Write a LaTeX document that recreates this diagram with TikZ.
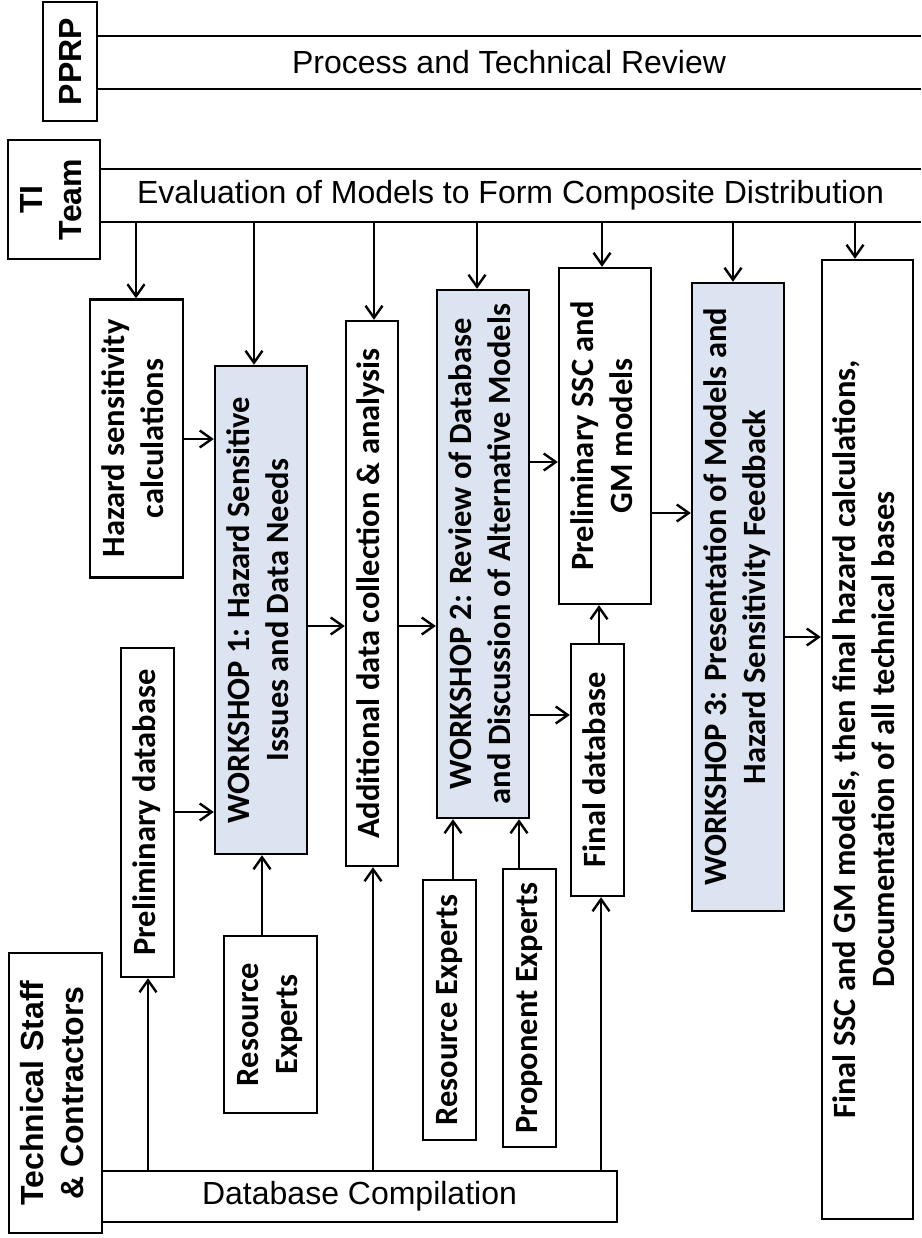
\documentclass[tikz,border=0pt]{standalone}
\usepackage{fontspec}
\usepackage{graphicx}
\setmainfont{Carlito}
\newfontfamily\arialf{Liberation Sans}
\usetikzlibrary{arrows.meta}
\definecolor{wsblue}{HTML}{DBE4F0}
\newcommand\rottext[1]{\rotatebox{90}{\begin{tabular}{@{}c@{}}#1\end{tabular}}}
\newcommand\boxfont{\fontsize{32.5}{39}\selectfont\bfseries}
\newcommand\bandfont{\arialf\fontsize{32}{38}\selectfont}
\newcommand\lblfont{\arialf\fontsize{32}{40}\selectfont\bfseries}
\begin{document}
\begin{tikzpicture}[x=1pt,y=-1pt,
  box/.style={draw=black, line width=2.4pt, inner sep=0pt, font=\boxfont},
  wsbox/.style={box, fill=wsblue},
  lbox/.style={draw=black, line width=2.4pt, inner sep=0pt, font=\lblfont},
  band/.style={draw=none, inner sep=0pt, font=\bandfont},
  bline/.style={line width=2.2pt},
  arr/.style={line width=2.4pt, -{Straight Barb[length=12pt,width=17pt]}}]
\useasboundingbox (0,0) rectangle (921,1238);

% left labels
\node[lbox, minimum width=54, minimum height=119] (pprp) at (70,61.5) {\rotatebox{90}{PPRP}};
\node[lbox, minimum width=92, minimum height=119] (ti) at (54,199.5) {\rottext{TI\\Team}};
\node[lbox, minimum width=93, minimum height=280] (ts) at (55.5,1093) {\rottext{Technical Staff\\\& Contractors}};

% bands
\node[band, minimum width=824, minimum height=53] (rev) at (509,62.5) {Process and Technical Review};
\draw[bline] (rev.north west) -- (rev.north east) (rev.south west) -- (rev.south east);
\node[band, minimum width=821, minimum height=53] (eval) at (510.5,195.5) {Evaluation of Models to Form Composite Distribution};
\draw[bline] (eval.north west) -- (eval.north east) (eval.south west) -- (eval.south east);
\node[band, minimum width=515, minimum height=51] (dbc) at (359.5,1196.5) {Database Compilation};
\draw[bline] (dbc.north west) -- (dbc.north east) -- (dbc.south east) -- (dbc.south west);

% boxes
\node[box, minimum width=93, minimum height=278] (hz) at (136.5,438.5) {\rottext{Hazard sensitivity\\calculations}};
\node[wsbox, minimum width=92, minimum height=488] (ws1) at (261,610) {\rottext{WORKSHOP 1: Hazard Sensitive\\Issues and Data Needs}};
\node[box, minimum width=52, minimum height=545] (add) at (372,593.5) {\rottext{Additional data collection \& analysis}};
\node[wsbox, minimum width=92, minimum height=528] (ws2) at (483,554) {\rottext{WORKSHOP 2: Review of Database\\and Discussion of Alternative Models}};
\node[box, minimum width=92, minimum height=336] (pssc) at (605,436) {\rottext{Preliminary SSC and\\GM models}};
\node[box, minimum width=53, minimum height=252] (fdb) at (597.5,770) {\rottext{Final database}};
\node[wsbox, minimum width=92, minimum height=628] (ws3) at (738,597) {\rottext{WORKSHOP 3: Presentation of Models and\\Hazard Sensitivity Feedback}};
\node[box, minimum width=91, minimum height=959] (fssc) at (867.5,739.5) {\rottext{Final SSC and GM models, then final hazard calculations,\\Documentation of all technical bases}};
\node[box, minimum width=53, minimum height=329] (pdb) at (147.5,812.5) {\rottext{Preliminary database}};
\node[box, minimum width=93, minimum height=177] (re1) at (270.5,1024.5) {\rottext{Resource\\Experts}};
\node[box, minimum width=53, minimum height=260] (re2) at (449.5,1010) {\rottext{Resource Experts}};
\node[box, minimum width=53, minimum height=278] (pe) at (529.5,1008) {\rottext{Proponent Experts}};

% arrows from TI band
\draw[arr] (eval.south -| 136,0) -- (hz.north -| 136,0);
\draw[arr] (eval.south -| 254,0) -- (ws1.north -| 254,0);
\draw[arr] (eval.south -| 374,0) -- (add.north -| 374,0);
\draw[arr] (eval.south -| 477,0) -- (ws2.north -| 477,0);
\draw[arr] (eval.south -| 602,0) -- (pssc.north -| 602,0);
\draw[arr] (eval.south -| 733,0) -- (ws3.north -| 733,0);
\draw[arr] (eval.south -| 855,0) -- (fssc.north -| 855,0);

% arrows from below
\draw[arr] (dbc.north -| 148,0) -- (pdb.south -| 148,0);
\draw[arr] (dbc.north -| 373,0) -- (add.south -| 373,0);
\draw[arr] (dbc.north -| 601,0) -- (fdb.south -| 601,0);
\draw[arr] (re1.north -| 262,0) -- (ws1.south -| 262,0);
\draw[arr] (re2.north -| 453,0) -- (ws2.south -| 453,0);
\draw[arr] (pe.north -| 519,0) -- (ws2.south -| 519,0);
\draw[arr] (fdb.north -| 599,0) -- (pssc.south -| 599,0);

% horizontal arrows
\draw[arr] (hz.east |- 0,439) -- (ws1.west |- 0,439);
\draw[arr] (pdb.east |- 0,812) -- (ws1.west |- 0,812);
\draw[arr] (ws1.east |- 0,626) -- (add.west |- 0,626);
\draw[arr] (add.east |- 0,626) -- (ws2.west |- 0,626);
\draw[arr] (ws2.east |- 0,462) -- (pssc.west |- 0,462);
\draw[arr] (ws2.east |- 0,715) -- (fdb.west |- 0,715);
\draw[arr] (pssc.east |- 0,513) -- (ws3.west |- 0,513);
\draw[arr] (ws3.east |- 0,637) -- (fssc.west |- 0,637);
\end{tikzpicture}
\end{document}
